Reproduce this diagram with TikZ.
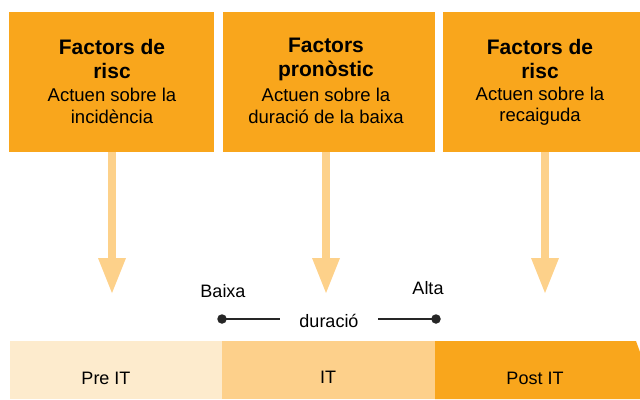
\documentclass[tikz,border=0pt]{standalone}
\usepackage{fontspec}
\setmainfont{Liberation Sans}
\definecolor{boxor}{HTML}{F9A61C}
\definecolor{arrowor}{HTML}{FDD18A}
\definecolor{prec}{HTML}{FDEBCD}
\definecolor{itc}{HTML}{FDD08B}
\begin{document}
\begin{tikzpicture}[x=1pt,y=-1pt,
  factorbox/.style={fill=boxor,draw=none},
  ttl/.style={font=\fontsize{21}{24}\selectfont\bfseries,align=center,inner sep=0pt},
  sub/.style={font=\fontsize{18.5}{21.5}\selectfont,align=center,inner sep=0pt},
  lbl/.style={font=\fontsize{18}{21}\selectfont,inner sep=0pt},
  bigarrow/.style={draw=arrowor,line width=8pt},
  arrowhead/.style={fill=arrowor,draw=none},
  dotline/.style={draw=black!85,line width=1.6pt},
  dotc/.style={circle,fill=black!85,inner sep=0pt,minimum size=9.5pt}]
\useasboundingbox (0,0) rectangle (640,399);
% boxes
\fill[factorbox] (9,12) rectangle (214,152);
\fill[factorbox] (223,12) rectangle (435,152);
\fill[factorbox] (443,12) rectangle (640,152);
\node[ttl] (t1) at (112,59) {Factors de\\risc};
\node[sub] (s1) at (112,106) {Actuen sobre la\\incidència};
\node[ttl] (t2) at (326,59) {Factors\\pronòstic};
\node[sub] (s2) at (326,106) {Actuen sobre la\\duració de la baixa};
\node[ttl] (t3) at (540,59) {Factors de\\risc};
\node[sub] (s3) at (540,106) {Actuen sobre la\\recaiguda};
% arrows
\coordinate (a1s) at (112,152); \coordinate (a1e) at (112,258);
\coordinate (a2s) at (326,152); \coordinate (a2e) at (326,258);
\coordinate (a3s) at (545,152); \coordinate (a3e) at (545,258);
\foreach \s/\e in {a1s/a1e,a2s/a2e,a3s/a3e}{
  \draw[bigarrow] (\s) -- (\e);
  \fill[arrowhead] ([xshift=-14pt]\e) -- ([xshift=14pt]\e) -- ([yshift=-35pt]\e) -- cycle;
}
% duration scale
\node[lbl] (baixa) at (223,291) {Baixa};
\node[lbl] (alta) at (428,288) {Alta};
\node[lbl] (dur) at (329,321) {duració};
\node[dotc] (d1) at (222,319) {};
\node[dotc] (d2) at (436,319) {};
\coordinate (l1e) at (280,319);
\coordinate (l2s) at (378,319);
\draw[dotline] (d1.center) -- (l1e);
\draw[dotline] (l2s) -- (d2.center);
% bottom bars
\fill[prec] (10,341) rectangle (222,399);
\fill[itc] (222,341) rectangle (435,399);
\fill[boxor] (435,341) -- (636,341) -- (640,352) -- (640,399) -- (435,399) -- cycle;
\node[lbl] (pre) at (106,378) {Pre IT};
\node[lbl] (it) at (328,377) {IT};
\node[lbl] (post) at (535,378) {Post IT};
\end{tikzpicture}
\end{document}
